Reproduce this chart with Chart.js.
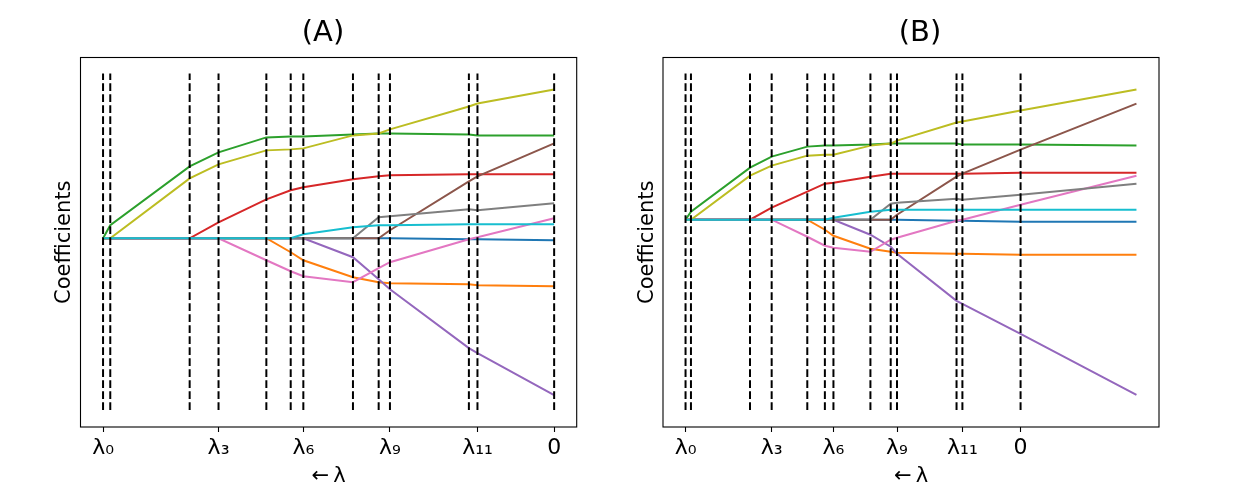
<!DOCTYPE html>
<html>
<head>
<meta charset="utf-8">
<script src="https://cdn.jsdelivr.net/npm/chart.js@4"></script>
<style>
  html, body { margin: 0; padding: 0; background: #fff; }
  #wrap { position: relative; width: 1243px; height: 502px; overflow: hidden; background: #fff; }
  canvas { position: absolute; top: 0; }
</style>
</head>
<body>
<div id="wrap">
  <canvas id="chartA" width="646" height="502" style="left:0px"></canvas>
  <canvas id="chartB" width="640" height="502" style="left:600px"></canvas>
</div>
<script>
const FONT = "'DejaVu Sans', sans-serif";
const colors = ['#1f77b4', '#ff7f0e', '#2ca02c', '#d62728', '#9467bd', '#8c564b', '#e377c2', '#7f7f7f', '#bcbd22', '#17becf'];
const tickLabels = ['λ₀', 'λ₃', 'λ₆', 'λ₉', 'λ₁₁', '0'];

// ---- panel (A) ----
// knot positions lambda_0 ... lambda_11, 0
const knotsA = [0, 0.016, 0.192, 0.256, 0.362, 0.416, 0.444, 0.554, 0.611, 0.636, 0.811, 0.830, 1.0];
const tickPosA = [0, 0.256, 0.444, 0.636, 0.830, 1.0];
const blueA   = [0, 0, 0, 0, 0, 0, 0, 0, 0, 0, -0.01, -0.01, -0.02];
const orangeA = [0, 0, 0, 0, 0, -0.14, -0.22, -0.39, -0.44, -0.45, -0.46, -0.47, -0.48];
const greenA  = [0, 0.13, 0.72, 0.86, 1.01, 1.02, 1.02, 1.04, 1.05, 1.05, 1.04, 1.03, 1.03];
const redA    = [0, 0, 0, 0.16, 0.39, 0.48, 0.51, 0.59, 0.62, 0.63, 0.64, 0.64, 0.64];
const purpleA = [0, 0, 0, 0, 0, 0, 0, -0.19, -0.41, -0.51, -1.10, -1.15, -1.57];
const brownA  = [0, 0, 0, 0, 0, 0, 0, 0, 0, 0.08, 0.57, 0.62, 0.95];
const pinkA   = [0, 0, 0, 0, -0.22, -0.33, -0.38, -0.44, -0.30, -0.24, -0.01, 0.01, 0.20];
const grayA   = [0, 0, 0, 0, 0, 0, 0, 0, 0.21, 0.22, 0.29, 0.28, 0.35];
const oliveA  = [0, 0, 0.60, 0.74, 0.88, 0.89, 0.90, 1.03, 1.05, 1.09, 1.32, 1.35, 1.49];
const cyanA   = [0, 0, 0, 0, 0, 0, 0.04, 0.11, 0.13, 0.13, 0.14, 0.14, 0.14];
const vlineLowA = -1.72, vlineHighA = 1.65;

// ---- panel (B) ----
const knotsB = [0, 0.012, 0.143, 0.191, 0.270, 0.309, 0.328, 0.410, 0.455, 0.469, 0.601, 0.614, 0.743];
const pathEndB = 1.0;
const tickPosB = [0, 0.191, 0.328, 0.469, 0.614, 0.743];
const blueB   = [0, 0, 0, 0, 0, 0, 0, 0, 0, 0, -0.01, -0.01, -0.02, -0.02];
const orangeB = [0, 0, 0, 0, 0, -0.10, -0.16, -0.29, -0.32, -0.33, -0.34, -0.34, -0.35, -0.35];
const greenB  = [0, 0.08, 0.52, 0.63, 0.73, 0.74, 0.74, 0.75, 0.76, 0.76, 0.76, 0.75, 0.75, 0.74];
const redB    = [0, 0, 0, 0.12, 0.28, 0.36, 0.37, 0.43, 0.46, 0.46, 0.46, 0.46, 0.47, 0.47];
const purpleB = [0, 0, 0, 0, 0, 0, 0, -0.15, -0.27, -0.34, -0.81, -0.84, -1.14, -1.75];
const brownB  = [0, 0, 0, 0, 0, 0, 0, 0, 0, 0.05, 0.43, 0.46, 0.70, 1.16];
const pinkB   = [0, 0, 0, 0, -0.17, -0.26, -0.28, -0.32, -0.20, -0.18, -0.01, 0.00, 0.15, 0.44];
const grayB   = [0, 0, 0, 0, 0, 0, 0, 0, 0.16, 0.17, 0.21, 0.20, 0.25, 0.36];
const oliveB  = [0, 0, 0.44, 0.54, 0.64, 0.65, 0.65, 0.74, 0.76, 0.79, 0.97, 0.98, 1.09, 1.30];
const cyanB   = [0, 0, 0, 0, 0, 0, 0.02, 0.08, 0.10, 0.10, 0.10, 0.10, 0.10, 0.10];
const vlineLowB = -1.90, vlineHighB = 1.46;

// axes frame on all four sides, like matplotlib
const framePlugin = {
  id: 'frame',
  afterDatasetsDraw(chart) {
    const a = chart.chartArea;
    const ctx = chart.ctx;
    ctx.save();
    ctx.strokeStyle = '#000';
    ctx.lineWidth = 1.1;
    ctx.strokeRect(a.left, a.top, a.right - a.left, a.bottom - a.top);
    ctx.restore();
  }
};

function makePanel(id, opts) {
  const datasets = [];

  // dashed knot lines
  opts.knots.forEach(k => {
    datasets.push({
      data: [{ x: k, y: opts.vlineLow }, { x: k, y: opts.vlineHigh }],
      borderColor: '#000',
      borderWidth: 2,
      borderDash: [7.7, 3.3],
      pointRadius: 0,
      showLine: true,
      order: 0,
    });
  });

  // coefficient paths
  opts.series.forEach((vals, i) => {
    datasets.push({
      data: vals.map((v, j) => ({ x: opts.pathX[j], y: v })),
      borderColor: colors[i],
      borderWidth: 2,
      pointRadius: 0,
      showLine: true,
      order: 20 - i,
    });
  });

  return new Chart(document.getElementById(id), {
    type: 'scatter',
    data: { datasets: datasets },
    options: {
      responsive: false,
      animation: false,
      events: [],
      layout: { padding: 0 },
      plugins: {
        legend: { display: false },
        tooltip: { enabled: false },
        title: {
          display: true,
          text: opts.title,
          color: '#000',
          font: { family: FONT, size: 29, weight: 'normal' },
          padding: { top: 15.9, bottom: 6.8 },
        },
      },
      scales: {
        x: {
          type: 'linear',
          position: 'bottom',
          min: -0.05,
          max: 1.05,
          afterBuildTicks: s => { s.ticks = opts.tickPos.map(v => ({ value: v })); },
          afterFit: s => { s.height = 75; },
          ticks: {
            autoSkip: false,
            maxRotation: 0,
            color: '#000',
            padding: 3,
            font: { family: FONT, size: 22 },
            callback: (v, i) => tickLabels[i],
          },
          grid: { display: true, drawOnChartArea: false, drawTicks: true, tickLength: 5, tickWidth: 1.1, tickColor: '#000' },
          border: { display: false },
          title: {
            display: true,
            text: '←\u2009λ',
            color: '#000',
            font: { family: FONT, size: 21 },
            padding: { top: 0, bottom: 12.4 },
          },
        },
        y: {
          type: 'linear',
          position: 'left',
          min: opts.yMin,
          max: opts.yMax,
          afterFit: s => { s.width = opts.leftW; },
          ticks: { display: false },
          grid: { display: false },
          border: { display: false },
          title: {
            display: true,
            text: 'Coefficients',
            color: '#000',
            font: { family: FONT, size: 21 },
            padding: { top: opts.ylabPad, bottom: 0 },
          },
        },
        yRight: {
          type: 'linear',
          position: 'right',
          min: 0,
          max: 1,
          afterFit: s => { s.width = opts.rightW; },
          ticks: { display: false },
          grid: { display: false },
          border: { display: false },
        },
      },
    },
    plugins: [framePlugin],
  });
}

makePanel('chartA', {
  title: '(A)',
  knots: knotsA,
  pathX: knotsA,
  tickPos: tickPosA,
  series: [blueA, orangeA, greenA, redA, purpleA, brownA, pinkA, grayA, oliveA, cyanA],
  vlineLow: vlineLowA,
  vlineHigh: vlineHighA,
  yMin: -1.89,
  yMax: 1.81,
  leftW: 80.5,
  rightW: 69.3,
  ylabPad: 52.2,
});

makePanel('chartB', {
  title: '(B)',
  knots: knotsB,
  pathX: knotsB.concat([pathEndB]),
  tickPos: tickPosB,
  series: [blueB, orangeB, greenB, redB, purpleB, brownB, pinkB, grayB, oliveB, cyanB],
  vlineLow: vlineLowB,
  vlineHigh: vlineHighB,
  yMin: -2.07,
  yMax: 1.62,
  leftW: 63,
  rightW: 81,
  ylabPad: 34.7,
});
</script>
</body>
</html>
